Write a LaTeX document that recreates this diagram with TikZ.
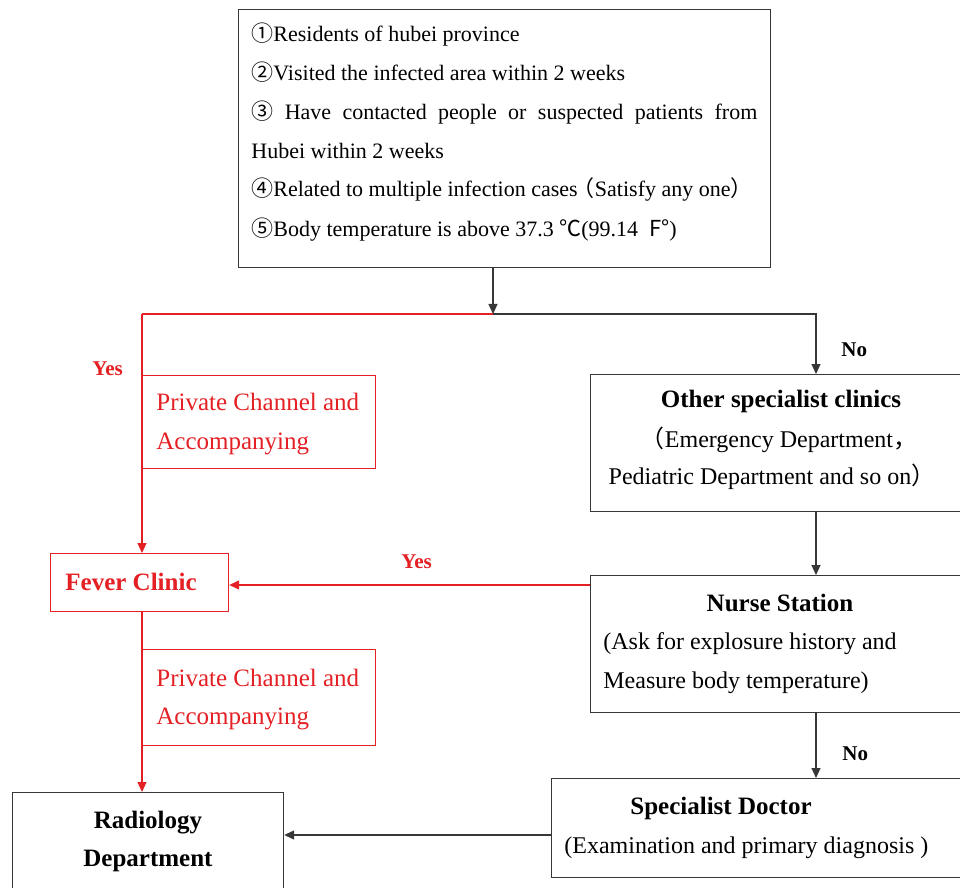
\documentclass[tikz,border=0pt]{standalone}
\usepackage{fontspec}
\setmainfont{Liberation Serif}
\newfontfamily\cjk{Noto Sans CJK SC}
\usetikzlibrary{arrows.meta}
\definecolor{cred}{RGB}{228,32,36}
\definecolor{cline}{RGB}{55,55,55}
\tikzset{
  box/.style={draw=cline, line width=0.6pt, rectangle, anchor=north west, inner sep=0pt, fill=white},
  rbox/.style={draw=cred, line width=0.6pt, rectangle, anchor=north west, inner sep=0pt, fill=white},
  txt/.style={anchor=base west, inner sep=0pt, font=\fontsize{12}{14}\selectfont},
  ctxt/.style={anchor=base, inner sep=0pt, font=\fontsize{12}{14}\selectfont},
  ttxt/.style={anchor=base west, inner sep=0pt, font=\fontsize{11}{13}\selectfont},
  lab/.style={anchor=base west, inner sep=0pt, font=\fontsize{10.5}{12}\selectfont\bfseries},
  blk/.style={draw=cline, line width=0.6pt, -{Triangle[length=5pt,width=4.5pt]}},
  red/.style={draw=cred, line width=0.6pt, -{Triangle[length=5pt,width=4.5pt]}},
}
\begin{document}
\begin{tikzpicture}[x=0.5pt,y=-0.5pt]
\useasboundingbox (0,0) rectangle (960,888);
\clip (0,0) rectangle (960,888);
\fill[white] (0,0) rectangle (960,888);

% boxes
\node[box, minimum width=266pt, minimum height=129pt] (top) at (238,9) {};
\node[box, minimum width=188pt, minimum height=68.5pt] (other) at (590,374) {};
\node[box, minimum width=188pt, minimum height=68.5pt] (nurse) at (590,575) {};
\node[box, minimum width=207.5pt, minimum height=49.5pt] (spec) at (551,778) {};
\node[box, minimum width=135.5pt, minimum height=50pt] (rad) at (12,792) {};
\node[rbox, minimum width=89pt, minimum height=29pt] (fever) at (50,553) {};

% junction coordinates
\coordinate (j) at (493,314);
\coordinate (jl) at (142,314);
\coordinate (jr) at (816,314);
\coordinate (ny) at (590,585);
\coordinate (sy) at (551,835);

% connectors
\draw[blk] (top.south -| j) -- (j);
\draw[cred, line width=0.6pt] (j) -- (jl);
\draw[red] (jl) -- (jl |- fever.north);
\draw[blk] (j) -- (jr) -- (jr |- other.north);
\draw[blk] (other.south -| jr) -- (nurse.north -| jr);
\draw[red] (ny) -- (ny -| fever.east);
\draw[blk] (nurse.south -| jr) -- (spec.north -| jr);
\draw[blk] (sy) -- (sy -| rad.east);
\draw[red] (fever.south -| jl) -- (rad.north -| jl);

% private channel boxes (over the red line)
\node[rbox, minimum width=116.5pt, minimum height=46.5pt] (pc1) at (142,375) {};
\node[rbox, minimum width=116.5pt, minimum height=48pt] (pc2) at (142,649) {};

% top box text
\node[ttxt] (t1) at (251,42) {{\cjk ①}Residents of hubei province};
\node[ttxt] (t2) at (251,81) {{\cjk ②}Visited the infected area within 2 weeks};
\node[ttxt] (t3) at (251,120) {\makebox[253pt][s]{{\cjk ③} Have contacted people or suspected patients from}};
\node[ttxt] (t4) at (251,159) {Hubei within 2 weeks};
\node[ttxt] (t5) at (251,197) {{\cjk ④}Related to multiple infection cases};
\node[ttxt, anchor=base east] (t5b) at (753,197) {{\cjk （}Satisfy any one{\cjk ）}};
\node[ttxt] (t6) at (251,236) {{\cjk ⑤}Body temperature is above 37.3 {\cjk ℃}(99.14\ \ {\cjk F°})};

% private channel texts
\node[txt, text=cred, font=\fontsize{12.5}{14}\selectfont] (p1a) at (156,410) {Private Channel and};
\node[txt, text=cred, font=\fontsize{12.5}{14}\selectfont] (p1b) at (156,449) {Accompanying};
\node[txt, text=cred, font=\fontsize{12.5}{14}\selectfont] (p2a) at (156,686) {Private Channel and};
\node[txt, text=cred, font=\fontsize{12.5}{14}\selectfont] (p2b) at (156,724) {Accompanying};

% fever clinic
\node[txt, text=cred, font=\fontsize{12.5}{14}\selectfont\bfseries] (fv) at (65,590) {Fever Clinic};

% other specialist
\node[ctxt, font=\fontsize{12.5}{14}\selectfont\bfseries] (o1) at (781,408) {Other specialist clinics};
\node[ctxt] (o2) at (779,447) {{\cjk （}Emergency Department{\cjk ，}};
\node[ctxt] (o3) at (772,484) {Pediatric Department and so on{\cjk ）}};

% nurse station
\node[ctxt, font=\fontsize{12.5}{14}\selectfont\bfseries] (n1) at (780,611) {Nurse Station};
\node[txt] (n2) at (603,649) {(Ask for explosure history and};
\node[txt] (n3) at (603,688) {Measure body temperature)};

% specialist doctor
\node[ctxt, font=\fontsize{12.5}{14}\selectfont\bfseries] (s1) at (721,814) {Specialist Doctor};
\node[txt] (s2) at (564,853) {(Examination and primary diagnosis )};

% radiology
\node[ctxt, font=\fontsize{12.5}{14}\selectfont\bfseries] (r1) at (148,828) {Radiology};
\node[ctxt, font=\fontsize{12.5}{14}\selectfont\bfseries] (r2) at (148,866) {Department};

% labels
\node[lab, text=cred] (y1) at (92,375) {Yes};
\node[lab, text=cred] (y2) at (401,568) {Yes};
\node[lab] (no1) at (841,357) {No};
\node[lab] (no2) at (842,760) {No};
\end{tikzpicture}
\end{document}
